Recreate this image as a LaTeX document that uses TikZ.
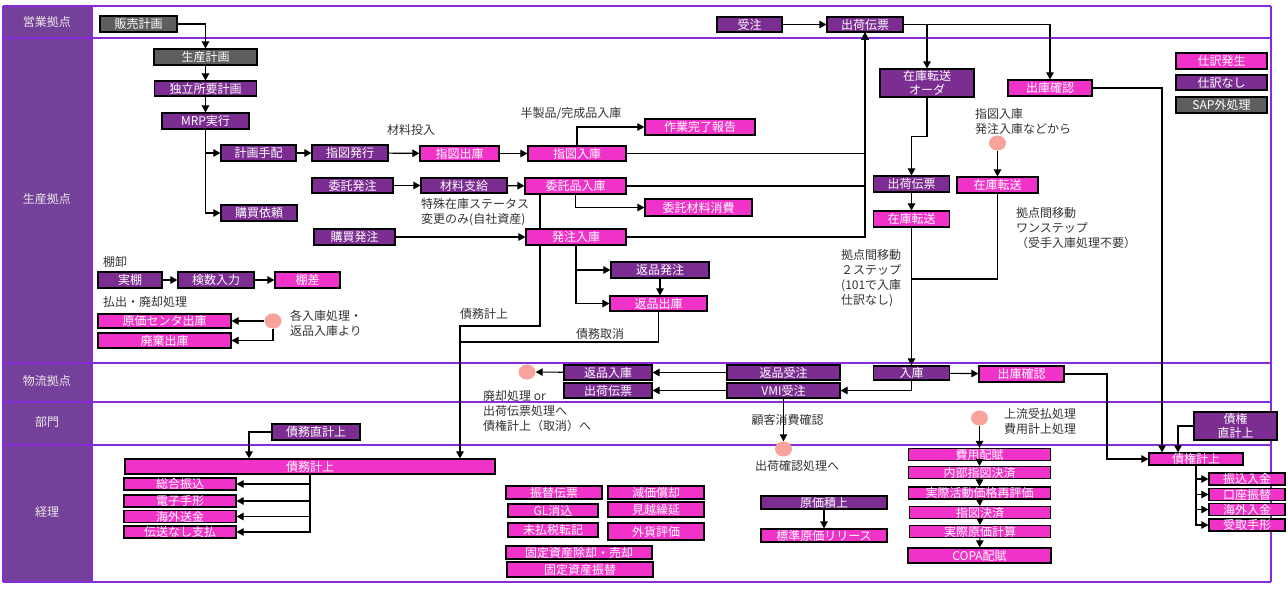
\documentclass[tikz,border=0pt]{standalone}
\usepackage{fontspec}
\setmainfont{Noto Sans CJK JP}
\usepackage{xcolor}
\usepackage{tikz}
\usetikzlibrary{arrows.meta,calc,shapes.geometric}
\definecolor{cLane}{HTML}{75409A}
\definecolor{cLaneTxt}{HTML}{E8E8E8}
\definecolor{cSep}{HTML}{8A2BD8}
\definecolor{cPink}{HTML}{F032C8}
\definecolor{cPurp}{HTML}{7B2D91}
\definecolor{cGray}{HTML}{5E5E5E}
\definecolor{cDot}{HTML}{F7A39B}
\definecolor{cNote}{HTML}{333333}

\begin{document}
\begin{tikzpicture}[x=1pt,y=-1pt,
  font=\fontsize{12}{15}\selectfont,
  box/.style={draw=black,line width=1.2pt,inner sep=0pt,text=white,text height=10pt,text depth=1pt,minimum height=15pt},
  pk/.style={box,fill=cPink}, pu/.style={box,fill=cPurp}, gy/.style={box,fill=cGray},
  wd/.style={minimum width=#1pt}, ht/.style={minimum height=#1pt},
  two/.style={align=center,text height={},text depth={},font=\fontsize{12}{14}\selectfont},
  spot/.style={ellipse,fill=cDot,minimum width=17pt,minimum height=15pt,inner sep=0pt},
  lane/.style={text=cLaneTxt},
  note/.style={text=cNote,align=left,inner sep=0pt},
  lanesep/.style={draw=cSep,line width=1.2pt},
  ln/.style={line width=1.1pt},
  ar/.style={ln,-{Triangle[length=7pt,width=7.5pt]}}
]
\useasboundingbox (0,0) rectangle (1288,595);
\fill[cLane] (3,6) rectangle (92,582);
\foreach \y in {6,38,363,402,445,582} {\draw[lanesep] (3,\y) -- (1271,\y);}
\draw[lanesep] (3,6) -- (3,582); \draw[lanesep] (92,6) -- (92,582); \draw[lanesep] (1271,6) -- (1271,582);
\node[lane] (lEigyo) at (47,22) {営業拠点};
\node[lane] (lSeisan) at (47,199) {生産拠点};
\node[lane] (lButsuryu) at (47,381) {物流拠点};
\node[lane] (lBumon) at (47,422) {部門};
\node[lane] (lKeiri) at (47,512) {経理};

% planning
\node[gy,wd=77,ht=16] (hanbai) at (138.5,24) {販売計画};
\node[gy,wd=103,ht=16] (seisan) at (205.5,57) {生産計画};
\node[pu,wd=102] (dokuritsu) at (205.5,88.5) {独立所要計画};
\node[pu,wd=87,ht=16] (mrp) at (205.5,121) {MRP実行};
\node[pu,wd=75,ht=16] (keikaku) at (258.5,153) {計画手配};
\node[pu,wd=76,ht=16] (konyuIrai) at (259,213) {購買依頼};
\node[pu,wd=76,ht=16] (shizuHakko) at (350,153) {指図発行};
\node[pk,wd=79] (shizuShuko) at (459.5,153.5) {指図出庫};
\node[pk,wd=98] (shizuNyuko) at (577,153.5) {指図入庫};
\node[pk,wd=110,ht=16] (sagyo) at (700,127) {作業完了報告};
\node[pu,wd=81] (itakuHatchu) at (352.5,185.5) {委託発注};
\node[pu,wd=86] (zairyoShikyu) at (464,185.5) {材料支給};
\node[pk,wd=101,ht=16] (itakuNyuko) at (575.5,186) {委託品入庫};
\node[pk,wd=107,ht=17] (itakuShohi) at (698.5,207.5) {委託材料消費};
\node[pu,wd=81,ht=16] (konyuHatchu) at (354.5,237) {購買発注};
\node[pk,wd=100,ht=16] (hatchuNyuko) at (576,237) {発注入庫};
\node[pu,wd=98,ht=16] (henpinHatchu) at (660,270) {返品発注};
\node[pk,wd=97] (henpinShuko) at (658.5,303.5) {返品出庫};
\node[pu,wd=64,ht=16] (jitsuTana) at (130,280) {実棚};
\node[pu,wd=76,ht=16] (kensu) at (216,280) {検数入力};
\node[pk,wd=65,ht=16] (tanasa) at (307.5,280) {棚差};
\node[pk,wd=133,ht=14] (genkaCenter) at (164.5,321) {原価センタ出庫};
\node[pk,wd=133] (haiki) at (164.5,340.5) {廃棄出庫};
\node[spot] (dotHarai) at (273,321) {};

% sales and transfer
\node[pu,wd=65] (juchu) at (749.5,24.5) {受注};
\node[pu,wd=76] (shukkaTop) at (865,24.5) {出荷伝票};
\node[pu,wd=94,ht=28,two] (zaikoOrder) at (927,83) {在庫転送\\オーダ};
\node[pk,wd=84,ht=16] (shukoKakuninTop) at (1050,88) {出庫確認};
\node[pu,wd=76,ht=16] (shukkaMid) at (911.5,184) {出荷伝票};
\node[spot] (dotTenso) at (997.5,143) {};
\node[pk,wd=81,ht=16] (zaikoTensoR) at (997.5,185) {在庫転送};
\node[pk,wd=76,ht=16] (zaikoTensoL) at (911.5,219) {在庫転送};
\node[pk,wd=91,ht=16] (shiwakeAri) at (1221.5,61) {仕訳発生};
\node[pu,wd=91] (shiwakeNashi) at (1221.5,82.5) {仕訳なし};
\node[gy,wd=91,ht=16] (sapGai) at (1221.5,105) {SAP外処理};

% logistics
\node[pu,wd=76,ht=14] (nyuko) at (911.5,373) {入庫};
\node[pk,wd=85,ht=16] (shukoKakunin) at (1021.5,374) {出庫確認};
\node[pu,wd=88] (henpinNyuko) at (608,372.5) {返品入庫};
\node[pu,wd=88] (shukkaLog) at (608,390.5) {出荷伝票};
\node[pu,wd=113] (henpinJuchu) at (783.5,372.5) {返品受注};
\node[pu,wd=113] (vmi) at (783.5,390.5) {VMI受注};
\node[spot] (dotHenpin) at (527,372) {};
\node[spot] (dotVmi) at (783.5,449) {};

% accounting
\node[pu,wd=88,ht=16] (saimuChoku) at (316,432) {債務直計上};
\node[pk,wd=370] (saimu) at (310,466.5) {債務計上};
\node[pk,wd=112,ht=12] (sogo) at (180,484) {総合振込};
\node[pk,wd=112,ht=12] (denshi) at (180,501) {電子手形};
\node[pk,wd=112,ht=12] (kaigaiSokin) at (180,516.5) {海外送金};
\node[pk,wd=112,ht=12] (densoNashi) at (180,532) {伝送なし支払};
\node[pk,wd=96,ht=13] (furikae) at (554,492.5) {振替伝票};
\node[pk,wd=96,ht=13] (genkaShokyaku) at (656,492.5) {減価償却};
\node[pk,wd=90,ht=13] (glKeshikomi) at (553,510.5) {GL消込};
\node[pk,wd=96] (mikoshi) at (656,509.5) {見越繰延};
\node[pk,wd=90,ht=14] (miharai) at (553,530) {未払税転記};
\node[pk,wd=96,ht=17] (gaika) at (656,531.5) {外貨評価};
\node[pk,wd=146,ht=13] (koteiJokyaku) at (579,552.5) {固定資産除却・売却};
\node[pk,wd=146] (koteiFurikae) at (580,569.5) {固定資産振替};
\node[pu,wd=126,ht=13] (genkaTsumiage) at (824,502.5) {原価積上};
\node[pk,wd=126,ht=13] (hyojun) at (824,535.5) {標準原価リリース};
\node[spot] (dotHiyo) at (979.5,418) {};
\node[pk,wd=142,ht=12] (hiyo) at (979.5,454.5) {費用配賦};
\node[pk,wd=142,ht=12] (naibu) at (979.5,472.5) {内部指図決済};
\node[pk,wd=142,ht=12] (jissaiKatsudo) at (979.5,493) {実際活動価格再評価};
\node[pk,wd=141,ht=12] (shizuKessai) at (980,512.5) {指図決済};
\node[pk,wd=141,ht=12] (jissaiGenka) at (980,531.5) {実際原価計算};
\node[pk,wd=143] (copa) at (979.5,555.5) {COPA配賦};
\node[pk,wd=94,ht=12] (saiken) at (1196,459) {債権計上};
\node[pu,wd=83,ht=28,two] (saikenChoku) at (1235.5,426) {債権\\直計上};
\node[pk,wd=76,ht=12] (furikomi) at (1247,479) {振込入金};
\node[pk,wd=76,ht=12] (koza) at (1247,494.5) {口座振替};
\node[pk,wd=76,ht=12] (kaigaiNyukin) at (1247,509.5) {海外入金};
\node[pk,wd=76,ht=12] (uketori) at (1247,525) {受取手形};

% notes
\node[note] (nZairyo) at (411,130) {材料投入};
\node[note] (nHanseihin) at (571,114) {半製品/完成品入庫};
\node[note,anchor=west] (nTokushu) at (421,212) {特殊在庫ステータス\\変更のみ(自社資産)};
\node[note] (nSaimu) at (484,314) {債務計上};
\node[note] (nTorikeshi) at (600,334) {債務取消};
\node[note,anchor=west] (nTana) at (103,262) {棚卸};
\node[note,anchor=west] (nHarai) at (103,302) {払出・廃却処理};
\node[note,anchor=west] (nKaku) at (290,323) {各入庫処理・\\返品入庫より};
\node[note,anchor=west] (nShizu) at (975,121) {指図入庫\\発注入庫などから};
\node[note,anchor=west] (nOne) at (1016,228) {拠点間移動\\ワンステップ\\（受手入庫処理不要）};
\node[note,anchor=west] (nTwo) at (841,278) {拠点間移動\\２ステップ\\(101で入庫\\仕訳なし)};
\node[note,anchor=west] (nHaikyaku) at (483,411) {廃却処理 or\\出荷伝票処理へ\\債権計上（取消）へ};
\node[note] (nKokyaku) at (787.5,420) {顧客消費確認};
\node[note] (nShukka) at (797,466) {出荷確認処理へ};
\node[note,anchor=west] (nJoryu) at (1004,421) {上流受払処理\\費用計上処理};

\coordinate (xs) at (540,0); \coordinate (bendA) at (460,326); \coordinate (bendB) at (460,342);
\coordinate (mergeC) at (911.5,279); \coordinate (xk) at (1162,0); \coordinate (xr) at (1107,0);
\coordinate (xc) at (1178,0); \coordinate (xe) at (249,0);

\draw[ar] (hanbai) -| (seisan);
\draw[ar] (seisan) -- (dokuritsu); \draw[ar] (dokuritsu) -- (mrp);
\draw[ar] (mrp.south) |- (konyuIrai.west); \draw[ar] (mrp.south |- keikaku.west) -- (keikaku.west);
\draw[ar] (keikaku) -- (shizuHakko); \draw[ar] (shizuHakko) -- (shizuShuko); \draw[ar] (shizuShuko) -- (shizuNyuko);
\draw[ar] (shizuNyuko.north) |- (sagyo.west);
\draw[ar] (itakuHatchu) -- (zairyoShikyu); \draw[ar] (zairyoShikyu) -- (itakuNyuko);
\draw[ar] (itakuNyuko.south) |- (itakuShohi.west);
\draw[ar] (konyuHatchu) -- (hatchuNyuko);
\draw[ln] (itakuNyuko.south -| xs) -- (hatchuNyuko.north -| xs);
\draw[ar] (hatchuNyuko.south -| xs) |- (bendA) -- (saimu.north -| bendA);
\draw[ar] (hatchuNyuko.south) |- (henpinHatchu.west); \draw[ar] (hatchuNyuko.south) |- (henpinShuko.west);
\draw[ar] (henpinHatchu.south) -- (henpinHatchu.south |- henpinShuko.north);
\draw[ln] (henpinShuko.south) |- (bendB);
\draw[ar] (shizuNyuko.east) -| (shukkaTop.south); \draw[ar] (itakuNyuko.east) -| (shukkaTop.south);
\draw[ar] (hatchuNyuko.east) -| (shukkaTop.south);
\draw[ar] (dotHarai) -- (genkaCenter); \draw[ar] (dotHarai.south) |- (haiki.east);
\draw[ar] (jitsuTana) -- (kensu); \draw[ar] (kensu) -- (tanasa);
\draw[ar] (juchu) -- (shukkaTop);
\draw[ar] (shukkaTop.east) -| (shukoKakuninTop.north); \draw[ar] (shukkaTop.east -| zaikoOrder.north) -- (zaikoOrder.north);
\draw[ar] (zaikoOrder.south) -- ++(0,39) -| (shukkaMid.north);
\draw[ar] (shukkaMid) -- (zaikoTensoL); \draw[ar] (dotTenso) -- (zaikoTensoR);
\draw[ar] (zaikoTensoL) -- (nyuko); \draw[ln] (zaikoTensoR.south) |- (mergeC);
\draw[ar] (shukoKakuninTop.east) -| (saiken.north -| xk);
\draw[ar] (nyuko) -- (shukoKakunin); \draw[ar] (nyuko.south) |- (vmi.east);
\draw[ar] (shukoKakunin.east) -| (xr |- saiken.west) -- (saiken.west);
\draw[ar] (saikenChoku.west) -| (saiken.north -| xc);
\foreach \t in {furikomi,koza,kaigaiNyukin,uketori} {\draw[ar] (saiken.south) |- (\t.west);}
\draw[ar] (henpinJuchu) -- (henpinNyuko); \draw[ar] (henpinNyuko) -- (dotHenpin); \draw[ar] (vmi) -- (shukkaLog);
\draw[ar] (vmi) -- (dotVmi);
\draw[ar] (saimuChoku.west) -| (saimu.north -| xe);
\foreach \t in {sogo,denshi,kaigaiSokin,densoNashi} {\draw[ar] (saimu.south) |- (\t.east);}
\draw[ar] (genkaTsumiage) -- (hyojun);
\draw[ar] (dotHiyo) -- (hiyo); \draw[ar] (hiyo) -- (naibu); \draw[ar] (naibu) -- (jissaiKatsudo);
\draw[ar] (jissaiKatsudo) -- (shizuKessai); \draw[ar] (shizuKessai) -- (jissaiGenka); \draw[ar] (jissaiGenka) -- (copa);
\end{tikzpicture}
\end{document}
